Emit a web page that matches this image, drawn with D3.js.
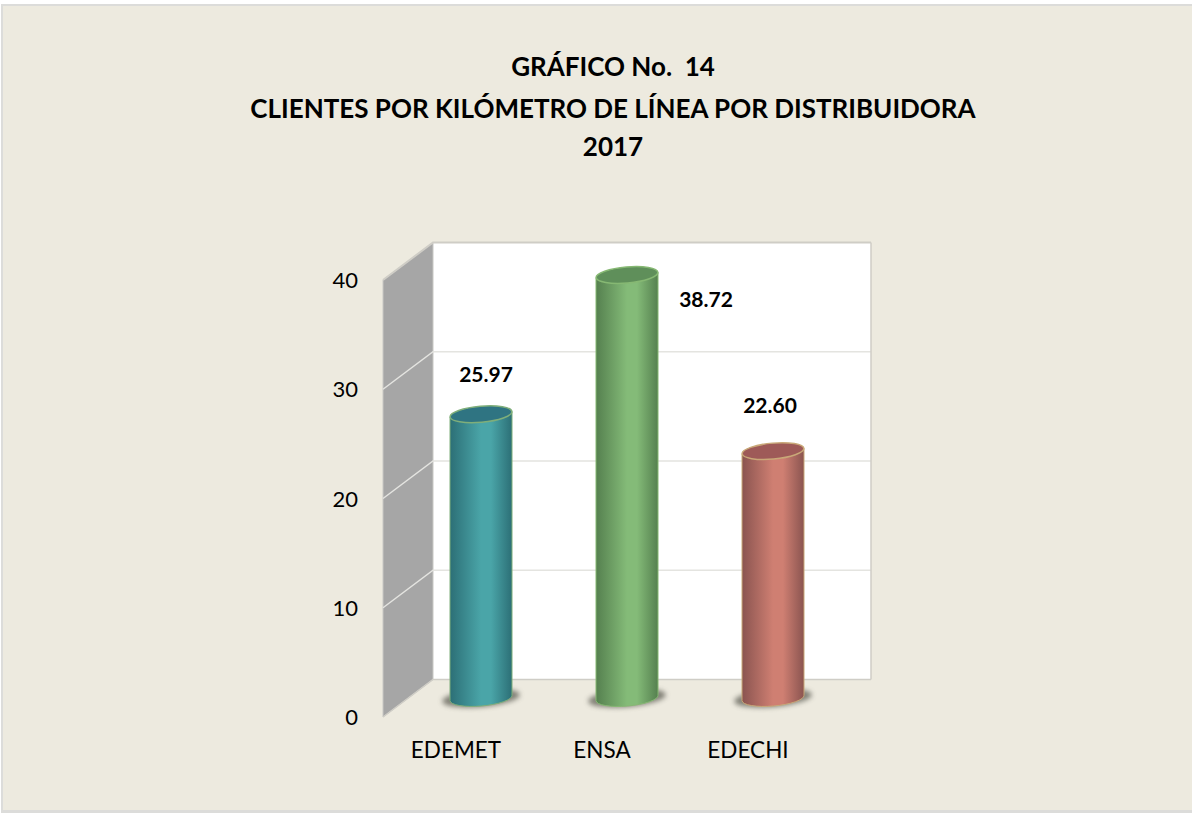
<!DOCTYPE html>
<html>
<head>
<meta charset="utf-8">
<script src="https://cdn.jsdelivr.net/npm/d3@7"></script>
<style>
    html, body { margin: 0; padding: 0; background: #ffffff; overflow: hidden; }
    svg { display: block; }
    text { font-family: Lato, "Open Sans", sans-serif; fill: #000000; }
    .title { font-size: 26px; font-weight: 700; text-anchor: middle; }
    .tick-label { font-size: 22px; }
    .cat-label { font-size: 22.5px; text-anchor: middle; }
    .value-label { font-size: 21px; font-weight: 700; text-anchor: middle; }
</style>
</head>
<body>
<svg width="1192" height="813"></svg>
<script>
// data
const categories = ["EDEMET", "ENSA", "EDECHI"];
const values = [25.97, 38.72, 22.60];
const valueLabels = ["25.97", "38.72", "22.60"];
const yTicks = [0, 10, 20, 30, 40];
const titleLines = ["GRÁFICO No.  14", "CLIENTES POR KILÓMETRO DE LÍNEA POR DISTRIBUIDORA", "2017"];
const barColors = [
    { side: "#2c6f76", mid: "#4aa5a8", top: "#2f7482", rim: "#7fae7a" },
    { side: "#55804f", mid: "#84bb78", top: "#5f8f5a", rim: "#86b873" },
    { side: "#8a5450", mid: "#cf7f72", top: "#9e5a58", rim: "#c9a878" }
];

// global variables
const depthX = 50;
const depthY = -37.5;
const barWidth = 62;

const svg = d3.select("svg");

const xScale = d3.scaleBand()
    .domain(categories)
    .range([383, 821]);

const yScale = d3.scaleLinear()
    .domain([0, 40])
    .range([717, 280]);

const x0 = xScale.range()[0];
const x1 = xScale.range()[1];

// background panel with its grey border
svg.append("rect")
    .attr("x", 1).attr("y", 4)
    .attr("width", 1191).attr("height", 809)
    .attr("fill", "#dcdcda");

svg.append("rect")
    .attr("x", 3).attr("y", 6)
    .attr("width", 1189).attr("height", 804)
    .attr("fill", "#edeadf");

// gradients
const defs = svg.append("defs");

barColors.forEach((c, i) => {
    const grad = defs.append("linearGradient")
        .attr("id", "bar" + i)
        .attr("x1", 0).attr("x2", 1).attr("y1", 0).attr("y2", 0);
    grad.append("stop").attr("offset", "0%").attr("stop-color", c.side);
    grad.append("stop").attr("offset", "50%").attr("stop-color", c.mid);
    grad.append("stop").attr("offset", "66%").attr("stop-color", c.mid);
    grad.append("stop").attr("offset", "100%").attr("stop-color", c.side);
});

defs.append("filter")
    .attr("id", "blur")
    .attr("x", "-30%").attr("y", "-60%")
    .attr("width", "160%").attr("height", "220%")
    .append("feGaussianBlur")
    .attr("stdDeviation", 2.5);

// back wall
svg.append("rect")
    .attr("x", x0 + depthX).attr("y", yScale(40) + depthY)
    .attr("width", x1 - x0).attr("height", yScale(0) - yScale(40))
    .attr("fill", "#ffffff");

// side wall
svg.append("path")
    .attr("d", d3.line()([
        [x0, yScale(40)],
        [x0 + depthX, yScale(40) + depthY],
        [x0 + depthX, yScale(0) + depthY],
        [x0, yScale(0)]
    ]) + "Z")
    .attr("fill", "#a6a6a6")
    .attr("stroke", "#c8c8c4")
    .attr("stroke-width", 1);

// gridlines
const grid = svg.append("g").attr("fill", "none");

yTicks.forEach(t => {
    const y = yScale(t);
    const line = d3.line()([
        [x0, y],
        [x0 + depthX, y + depthY],
        [x1 + depthX, y + depthY]
    ]);
    grid.append("path")
        .attr("d", line)
        .attr("stroke", t === 0 || t === 40 ? "#cfcdc6" : "#e4e4e0")
        .attr("stroke-width", t === 40 ? 2 : 1.5);
});

// right edge of the back wall
svg.append("line")
    .attr("x1", x1 + depthX).attr("x2", x1 + depthX)
    .attr("y1", yScale(40) + depthY).attr("y2", yScale(0) + depthY)
    .attr("stroke", "#cfcdc6")
    .attr("stroke-width", 1.5);

// cylinders
const barCenter = d => xScale(d.cat) + xScale.bandwidth() / 2 + 25;
const barLift = 19;
const barBase = yScale(0) - barLift;
const rx = barWidth / 2;
const ry = 8;
const tilt = -5;

function cylinderBody(cx, top, bottom) {
    const dy = rx * Math.sin(tilt * Math.PI / 180);
    return "M" + (cx - rx) + "," + (top - dy)
        + "L" + (cx - rx) + "," + (bottom - dy)
        + "A" + rx + "," + ry + "," + tilt + ",0,0," + (cx + rx) + "," + (bottom + dy)
        + "L" + (cx + rx) + "," + (top + dy)
        + "Z";
}

const rows = categories.map((cat, i) => ({ cat: cat, value: values[i], label: valueLabels[i], i: i }));

const bars = svg.selectAll(".bar")
    .data(rows)
    .join("g")
    .attr("class", "bar");

bars.append("ellipse")
    .attr("cx", d => barCenter(d))
    .attr("cy", barBase)
    .attr("rx", rx + 8)
    .attr("ry", ry + 1)
    .attr("transform", d => "rotate(" + tilt + "," + barCenter(d) + "," + barBase + ")")
    .attr("fill", "#55554c")
    .attr("opacity", 0.7)
    .attr("filter", "url(#blur)");

bars.append("path")
    .attr("d", d => cylinderBody(barCenter(d), yScale(d.value) - barLift, barBase))
    .attr("fill", d => "url(#bar" + d.i + ")")
    .attr("stroke", d => barColors[d.i].rim)
    .attr("stroke-width", 1);

bars.append("ellipse")
    .attr("cx", d => barCenter(d))
    .attr("cy", d => yScale(d.value) - barLift)
    .attr("rx", rx)
    .attr("ry", ry)
    .attr("transform", d => "rotate(" + tilt + "," + barCenter(d) + "," + (yScale(d.value) - barLift) + ")")
    .attr("fill", d => barColors[d.i].top)
    .attr("stroke", d => barColors[d.i].rim)
    .attr("stroke-width", 1.5);

// value labels
const labelX = [486, 706, 770];
const labelY = [382, 307, 413];

svg.selectAll(".value-label")
    .data(rows)
    .join("text")
    .attr("class", "value-label")
    .attr("x", d => labelX[d.i])
    .attr("y", d => labelY[d.i])
    .text(d => d.label);

// y axis labels
svg.selectAll(".tick-label")
    .data(yTicks)
    .join("text")
    .attr("class", "tick-label")
    .attr("x", 358)
    .attr("y", d => yScale(d) + 8)
    .attr("text-anchor", "end")
    .text(d => d);

// category labels
svg.selectAll(".cat-label")
    .data(categories)
    .join("text")
    .attr("class", "cat-label")
    .attr("x", d => xScale(d) + xScale.bandwidth() / 2)
    .attr("y", 758)
    .text(d => d);

// title
const titleY = [76, 118, 156];

svg.selectAll(".title")
    .data(titleLines)
    .join("text")
    .attr("class", "title")
    .attr("x", 613)
    .attr("y", (d, i) => titleY[i])
    .style("white-space", "pre")
    .text(d => d);
</script>
</body>
</html>
